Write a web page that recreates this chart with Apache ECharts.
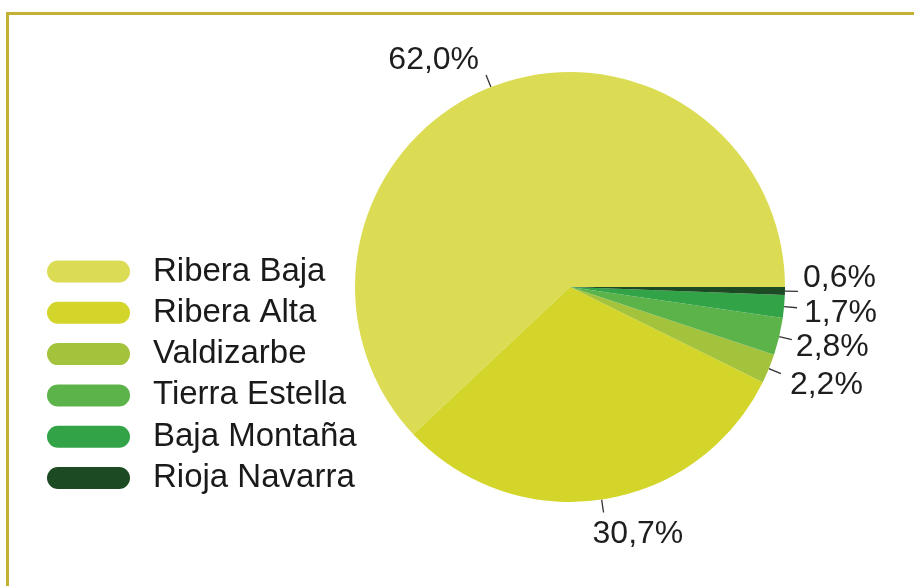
<!DOCTYPE html>
<html>
<head>
<meta charset="utf-8">
<script src="https://cdn.jsdelivr.net/npm/echarts@6/dist/echarts.min.js"></script>
<style>
  html, body { margin: 0; padding: 0; background: #ffffff; }
  #chart { width: 914px; height: 586px; }
</style>
</head>
<body>
<div id="chart"></div>
<script>
// ---- data ----
const categories = ['Ribera Baja', 'Ribera Alta', 'Valdizarbe', 'Tierra Estella', 'Baja Montaña', 'Rioja Navarra'];
const values = [62.0, 30.7, 2.2, 2.8, 1.7, 0.6];
const colors = ['#dcdc54', '#d3d52b', '#a4c33c', '#5cb34a', '#33a347', '#1c4a22'];
// label text offsets relative to label-line end (style only)
const labelOffsets = [[-7, -15, 'right'], [-11, 22, 'left'], [9, 12, 'left'], [4, 8, 'left'], [7, 5, 'left'], [5, -13, 'left']];

const chart = echarts.init(document.getElementById('chart'), null, { renderer: 'canvas' });

const pieData = categories.map((name, i) => ({
  name: name,
  value: values[i],
  itemStyle: { color: colors[i] }
}));

const option = {
  backgroundColor: '#ffffff',
  animation: false,
  graphic: [
    { type: 'rect', shape: { x: 6, y: 12, width: 908, height: 3 }, style: { fill: '#c4b033' } },
    { type: 'rect', shape: { x: 6, y: 12, width: 3, height: 574 }, style: { fill: '#c4b033' } }
  ],
  legend: {
    orient: 'vertical',
    left: 42,
    top: 250,
    padding: 5,
    itemWidth: 83,
    itemHeight: 22,
    itemGap: 8.3,
    icon: 'path://M11,0 H72 A11,11 0 0 1 72,22 H11 A11,11 0 0 1 11,0 Z',
    data: categories,
    textStyle: {
      fontFamily: 'Liberation Sans, Arial, sans-serif',
      fontSize: 33,
      lineHeight: 30,
      color: '#1a1a1a',
      padding: [0, 0, 0, 18]
    },
    selectedMode: false
  },
  series: [{
    type: 'pie',
    center: [570, 287],
    radius: 215,
    startAngle: 0,
    clockwise: false,
    avoidLabelOverlap: false,
    silent: true,
    data: pieData,
    itemStyle: { borderWidth: 0 },
    label: {
      show: true,
      position: 'outside',
      formatter: function (p) { return p.value.toFixed(1).replace('.', ',') + '%'; },
      fontFamily: 'Liberation Sans, Arial, sans-serif',
      fontSize: 32,
      color: '#1e1e1e'
    },
    labelLine: {
      show: true,
      length: 13,
      length2: 0,
      lineStyle: { color: '#333333', width: 1.3 }
    },
    labelLayout: function (params) {
      const pts = params.labelLinePoints;
      if (!pts) return {};
      const end = pts[pts.length - 1];
      const off = labelOffsets[params.dataIndex];
      return {
        x: end[0] + off[0],
        y: end[1] + off[1],
        align: off[2],
        verticalAlign: 'middle',
        labelLinePoints: pts
      };
    }
  }]
};

chart.setOption(option);
</script>
</body>
</html>
